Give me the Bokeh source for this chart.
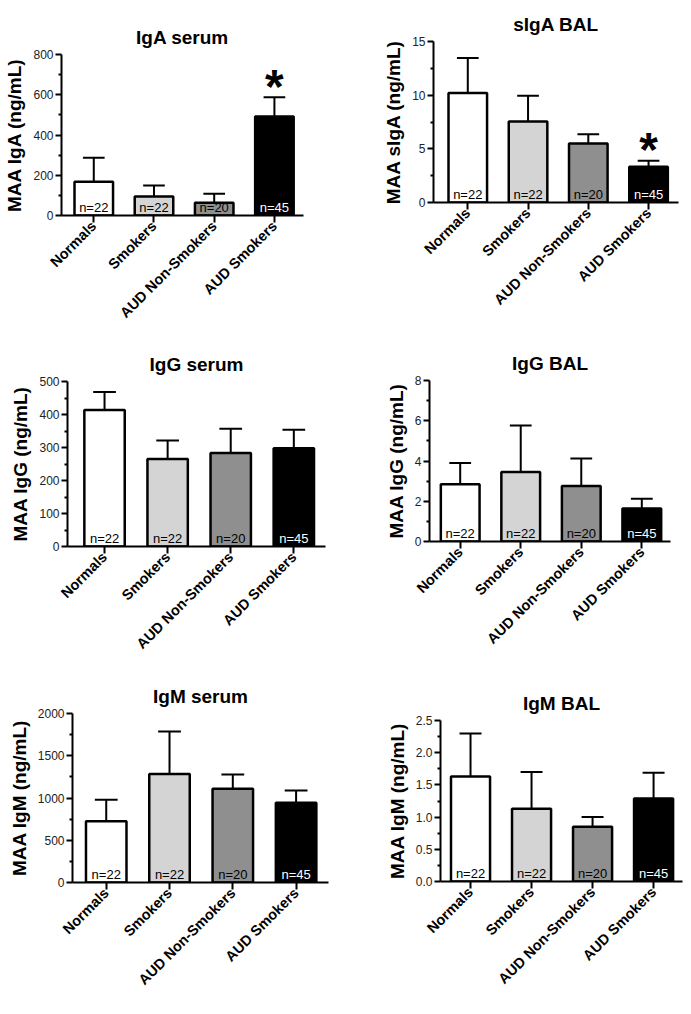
import math
from bokeh.plotting import figure
from bokeh.layouts import column, row
from bokeh.models import Range1d, FixedTicker, ColumnDataSource, NumeralTickFormatter
from bokeh.embed import file_html
from bokeh.resources import INLINE
from bokeh.core.properties import value

# ---------------- data ----------------
categories = ["Normals", "Smokers", "AUD Non-Smokers", "AUD Smokers"]
n_labels = ["n=22", "n=22", "n=20", "n=45"]
bar_colors = ["#ffffff", "#d4d4d4", "#8f8f8f", "#000000"]
n_colors = ["#000000", "#000000", "#000000", "#ffffff"]

iga_serum_mean = [168, 95, 63, 492]
iga_serum_err = [119, 54, 45, 96]
iga_serum_sig = ["", "", "", "*"]

siga_bal_mean = [10.2, 7.55, 5.5, 3.33]
siga_bal_err = [3.27, 2.40, 0.87, 0.56]
siga_bal_sig = ["", "", "", "*"]

igg_serum_mean = [414, 265, 283, 298]
igg_serum_err = [54, 56, 74, 56]
igg_serum_sig = ["", "", "", ""]

igg_bal_mean = [2.85, 3.45, 2.76, 1.64]
igg_bal_err = [1.05, 2.31, 1.37, 0.48]
igg_bal_sig = ["", "", "", ""]

igm_serum_mean = [725, 1283, 1109, 943]
igm_serum_err = [253, 503, 170, 146]
igm_serum_sig = ["", "", "", ""]

igm_bal_mean = [1.63, 1.13, 0.85, 1.29]
igm_bal_err = [0.67, 0.57, 0.15, 0.40]
igm_bal_sig = ["", "", "", ""]

FONT = value("Liberation Sans")
XPOS = [i + 1 for i in range(len(categories))]


def make_panel(title, ylabel, means, errs, sig, yticks, yminor, w, h, borders, xr, fmt=None):
    l, r, t, b = borders
    p = figure(width=w, height=h, output_backend="svg", toolbar_location=None,
               x_range=Range1d(*xr), y_range=Range1d(yticks[0], yticks[-1]),
               min_border_left=l, min_border_right=r, min_border_top=t, min_border_bottom=b,
               title=title, frame_align=False)
    p.outline_line_color = None
    p.grid.visible = False
    p.background_fill_color = "white"
    p.border_fill_color = "white"

    upper = [m + e for m, e in zip(means, errs)]
    src = ColumnDataSource(dict(
        x=XPOS, mean=means, upper=upper,
        xl=[x - 0.18 for x in XPOS], xr=[x + 0.18 for x in XPOS],
        color=bar_colors, n=n_labels, ncolor=n_colors, sig=sig,
    ))
    p.segment(x0="x", y0="mean", x1="x", y1="upper", source=src, line_color="black", line_width=2)
    p.segment(x0="xl", y0="upper", x1="xr", y1="upper", source=src, line_color="black", line_width=2)
    p.vbar(x="x", top="mean", bottom=0, width=0.64, source=src, fill_color="color",
           line_color="black", line_width=2.5)
    p.text(x="x", y=0, text="n", source=src, text_color="ncolor", text_align="center",
           text_baseline="bottom", y_offset=-1, text_font=FONT, text_font_size="13px")
    p.text(x="x", y="upper", text="sig", source=src, text_color="black", text_align="center",
           text_baseline="middle", y_offset=-11, text_font=FONT, text_font_size="48px",
           text_font_style="bold")

    p.title.text_font = "Liberation Sans"
    p.title.text_font_size = "19px"
    p.title.text_font_style = "bold"
    p.title.text_color = "black"
    p.title.align = "center"
    p.title.standoff = 14

    xa = p.xaxis[0]
    xa.ticker = FixedTicker(ticks=XPOS)
    xa.major_label_overrides = {x: c for x, c in zip(XPOS, categories)}
    xa.major_label_orientation = math.pi / 4
    xa.major_label_text_font = "Liberation Sans"
    xa.major_label_text_font_style = "bold"
    xa.major_label_text_font_size = "14.5px"
    xa.major_label_text_color = "black"
    xa.major_label_standoff = 1
    xa.major_tick_out = 7
    xa.major_tick_in = 0
    xa.minor_tick_line_color = None
    xa.axis_line_width = 2
    xa.major_tick_line_width = 2
    xa.axis_line_color = "black"

    ya = p.yaxis[0]
    ya.ticker = FixedTicker(ticks=yticks, minor_ticks=yminor)
    if fmt:
        ya.formatter = NumeralTickFormatter(format=fmt)
    ya.axis_label = ylabel
    ya.axis_label_text_font = "Liberation Sans"
    ya.axis_label_text_font_style = "bold"
    ya.axis_label_text_font_size = "19px"
    ya.axis_label_text_color = "black"
    ya.axis_label_standoff = 5
    ya.major_label_text_font = "Liberation Sans"
    ya.major_label_text_font_size = "12px"
    ya.major_label_text_color = "#222222"
    ya.major_label_standoff = 2
    ya.major_tick_out = 6
    ya.major_tick_in = 0
    ya.minor_tick_out = 3
    ya.minor_tick_in = 0
    ya.axis_line_width = 2
    ya.major_tick_line_width = 2
    ya.minor_tick_line_width = 2
    return p


p1 = make_panel("IgA serum", "MAA IgA (ng/mL)", iga_serum_mean, iga_serum_err, iga_serum_sig,
                [0, 200, 400, 600, 800], [100, 300, 500, 700], 345, 330, (61, 42, 54, 115), (0.464, 4.483))
p2 = make_panel("sIgA BAL", "MAA sIgA (ng/mL)", siga_bal_mean, siga_bal_err, siga_bal_sig,
                [0, 5, 10, 15], [2.5, 7.5, 12.5], 346, 330, (88, 13, 41, 128), (0.431, 4.497))
p3 = make_panel("IgG serum", "MAA IgG (ng/mL)", igg_serum_mean, igg_serum_err, igg_serum_sig,
                [0, 100, 200, 300, 400, 500], [50, 150, 250, 350, 450], 345, 330, (67, 20, 51, 112), (0.413, 4.502))
p4 = make_panel("IgG BAL", "MAA IgG (ng/mL)", igg_bal_mean, igg_bal_err, igg_bal_sig,
                [0, 2, 4, 6, 8], [1, 3, 5, 7], 346, 330, (84, 21, 50, 119), (0.493, 4.474))
p5 = make_panel("IgM serum", "MAA IgM (ng/mL)", igm_serum_mean, igm_serum_err, igm_serum_sig,
                [0, 500, 1000, 1500, 2000], [250, 750, 1250, 1750], 345, 354, (72, 17, 53, 132), (0.467, 4.512))
p6 = make_panel("IgM BAL", "MAA IgM (ng/mL)", igm_bal_mean, igm_bal_err, igm_bal_sig,
                [0, 0.5, 1.0, 1.5, 2.0, 2.5], [0.25, 0.75, 1.25, 1.75, 2.25], 346, 354, (95, 9, 60, 133),
                (0.508, 4.474), fmt="0.0")

layout = column(row(p1, p2), row(p3, p4), row(p5, p6))
open("out.html", "w").write(file_html(layout, INLINE))
